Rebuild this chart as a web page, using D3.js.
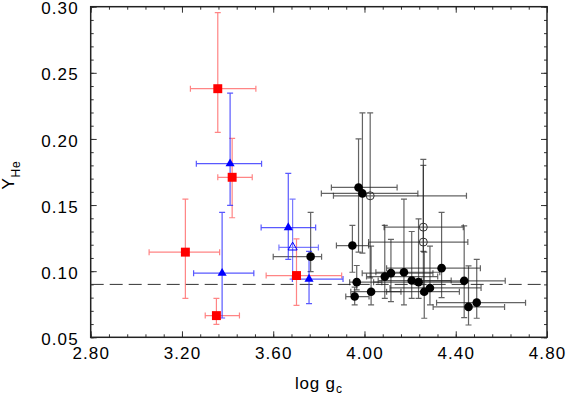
<!DOCTYPE html>
<html>
<head>
  <meta charset="utf-8">
  <script src="https://d3js.org/d3.v7.min.js"></script>
  <style>
    body { margin:0; background:#fff; }
    text { font-family: "Liberation Sans", Arial, sans-serif; }
  </style>
</head>
<body>
<svg id="chart" width="566" height="396"></svg>
<script>
// each row: [logg, Y, logg low, logg high, Y low, Y high]
var redSquares = [
  [3.357, 0.2380, 3.237, 3.524, 0.2050, 0.2955],
  [3.420, 0.1710, 3.357, 3.508, 0.1404, 0.2005],
  [3.215, 0.1144, 3.056, 3.365, 0.0795, 0.1545],
  [3.351, 0.0664, 3.302, 3.452, 0.0598, 0.0795],
  [3.702, 0.0967, 3.569, 3.900, 0.0742, 0.1245]
];
var blueTriangles = [
  [3.411, 0.1813, 3.263, 3.549, 0.1497, 0.2346],
  [3.376, 0.0985, 3.251, 3.515, 0.0646, 0.1444],
  [3.666, 0.1330, 3.547, 3.786, 0.1090, 0.1740],
  [3.757, 0.0940, 3.684, 3.906, 0.0755, 0.1150]
];
var blueOpenTriangles = [
  [3.685, 0.1180, 3.625, 3.798, 0.0940, 0.1545]
];
var blackCircles = [
  [3.974, 0.1633, 3.855, 4.143, 0.1144, 0.2000],
  [3.991, 0.1588, 3.811, 4.234, 0.1136, 0.2197],
  [3.764, 0.1110, 3.600, 3.812, 0.0997, 0.1444],
  [3.947, 0.1194, 3.877, 4.018, 0.0992, 0.1346],
  [3.966, 0.0917, 3.935, 4.076, 0.0858, 0.1043],
  [3.957, 0.0808, 3.918, 4.020, 0.0745, 0.0880],
  [4.029, 0.0845, 3.940, 4.160, 0.0745, 0.1190],
  [4.089, 0.0959, 4.009, 4.321, 0.0795, 0.1346],
  [4.116, 0.0985, 3.990, 4.300, 0.0770, 0.1240],
  [4.173, 0.0992, 4.050, 4.330, 0.0745, 0.1545],
  [4.207, 0.0929, 4.060, 4.380, 0.0795, 0.1300],
  [4.237, 0.0917, 4.040, 4.440, 0.0795, 0.1396],
  [4.262, 0.0845, 4.097, 4.416, 0.0644, 0.1144],
  [4.287, 0.0873, 4.112, 4.511, 0.0745, 0.1190],
  [4.338, 0.1023, 4.097, 4.508, 0.0800, 0.1444],
  [4.437, 0.0927, 4.250, 4.617, 0.0649, 0.1343],
  [4.456, 0.0730, 4.301, 4.614, 0.0593, 0.1040],
  [4.492, 0.0762, 4.316, 4.706, 0.0644, 0.1090]
];
var blackOpenCircles = [
  [4.025, 0.1570, 3.864, 4.447, 0.0950, 0.2197],
  [4.258, 0.1333, 4.086, 4.433, 0.1150, 0.1845],
  [4.258, 0.1220, 4.018, 4.453, 0.0830, 0.1800]
];
var xTicks = [2.8, 3.2, 3.6, 4.0, 4.4, 4.8];
var yTicks = [0.05, 0.10, 0.15, 0.20, 0.25, 0.30];
var yLine = 0.09;

var plotL = 90.7, plotR = 547, plotT = 6.7, plotB = 337.3;
var svg = d3.select("#chart");

var x = d3.scaleLinear().domain([2.8, 4.8]).range([plotL, plotR]);
var y = d3.scaleLinear().domain([0.05, 0.30]).range([plotB, plotT]);

var xMinor = d3.range(2.8, 4.8001, 0.08);
var yMinor = d3.range(0.05, 0.3001, 0.01);

function styleAxis(g) {
  g.select(".domain").remove();
  g.selectAll(".tick line").attr("stroke", "#333").attr("stroke-width", 1);
  g.selectAll("text").attr("font-size", "17px").attr("fill", "#000")
    .attr("letter-spacing", "1.1px")
    .attr("font-family", "'Liberation Sans', Arial, sans-serif");
}

// minor ticks on all four sides
svg.append("g").attr("transform", "translate(0," + plotB + ")")
  .call(d3.axisBottom(x).tickValues(xMinor).tickSize(-3).tickFormat("")).call(styleAxis);
svg.append("g").attr("transform", "translate(0," + plotT + ")")
  .call(d3.axisTop(x).tickValues(xMinor).tickSize(-3).tickFormat("")).call(styleAxis);
svg.append("g").attr("transform", "translate(" + plotL + ",0)")
  .call(d3.axisLeft(y).tickValues(yMinor).tickSize(-3).tickFormat("")).call(styleAxis);
svg.append("g").attr("transform", "translate(" + plotR + ",0)")
  .call(d3.axisRight(y).tickValues(yMinor).tickSize(-3).tickFormat("")).call(styleAxis);

// major ticks
svg.append("g").attr("transform", "translate(0," + plotB + ")")
  .call(d3.axisBottom(x).tickValues(xTicks).tickSize(-6).tickPadding(10).tickFormat(d3.format(".2f"))).call(styleAxis);
svg.append("g").attr("transform", "translate(0," + plotT + ")")
  .call(d3.axisTop(x).tickValues(xTicks).tickSize(-6).tickFormat("")).call(styleAxis);
svg.append("g").attr("transform", "translate(" + plotL + ",0)")
  .call(d3.axisLeft(y).tickValues(yTicks).tickSize(-6).tickPadding(12).tickFormat(d3.format(".2f"))).call(styleAxis)
  .selectAll("text").attr("dy", "0.42em");
svg.append("g").attr("transform", "translate(" + plotR + ",0)")
  .call(d3.axisRight(y).tickValues(yTicks).tickSize(-6).tickFormat("")).call(styleAxis);

// frame
svg.append("rect").attr("x", plotL).attr("y", plotT)
  .attr("width", plotR - plotL).attr("height", plotB - plotT)
  .attr("fill", "none").attr("stroke", "#222").attr("stroke-width", 1.5);

// dashed reference line
svg.append("line")
  .attr("x1", x(2.8)).attr("x2", x(4.8)).attr("y1", y(yLine)).attr("y2", y(yLine))
  .attr("stroke", "#333").attr("stroke-width", 1).attr("stroke-dasharray", "13,6");

// error bars
var cap = 3;
function errorBars(data, color, opacity) {
  var g = svg.append("g").attr("stroke", color).attr("stroke-width", 1.2)
    .attr("stroke-opacity", opacity).attr("fill", "none");
  data.forEach(function(d) {
    var px = x(d[0]), py = y(d[1]);
    var path = d3.path();
    path.moveTo(x(d[2]), py); path.lineTo(x(d[3]), py);
    path.moveTo(x(d[2]), py - cap); path.lineTo(x(d[2]), py + cap);
    path.moveTo(x(d[3]), py - cap); path.lineTo(x(d[3]), py + cap);
    path.moveTo(px, y(d[4])); path.lineTo(px, y(d[5]));
    path.moveTo(px - cap, y(d[4])); path.lineTo(px + cap, y(d[4]));
    path.moveTo(px - cap, y(d[5])); path.lineTo(px + cap, y(d[5]));
    g.append("path").attr("d", path.toString());
  });
}
errorBars(blackCircles, "#222", 0.7);
errorBars(blackOpenCircles, "#222", 0.7);
errorBars(redSquares, "#ff3333", 0.6);
errorBars(blueTriangles, "#2222ff", 0.75);
errorBars(blueOpenTriangles, "#2222ff", 0.6);

// markers
svg.append("g").selectAll("path").data(redSquares).enter().append("path")
  .attr("transform", function(d) { return "translate(" + x(d[0]) + "," + y(d[1]) + ")"; })
  .attr("d", d3.symbol().type(d3.symbolSquare).size(80))
  .attr("fill", "#ff0000");

svg.append("g").selectAll("path").data(blueTriangles).enter().append("path")
  .attr("transform", function(d) { return "translate(" + x(d[0]) + "," + y(d[1]) + ")"; })
  .attr("d", d3.symbol().type(d3.symbolTriangle).size(36))
  .attr("fill", "#0000ff");

svg.append("g").selectAll("path").data(blueOpenTriangles).enter().append("path")
  .attr("transform", function(d) { return "translate(" + x(d[0]) + "," + y(d[1]) + ")"; })
  .attr("d", d3.symbol().type(d3.symbolTriangle).size(36))
  .attr("fill", "none").attr("stroke", "#0000ff").attr("stroke-width", 1);

svg.append("g").selectAll("circle").data(blackCircles).enter().append("circle")
  .attr("cx", function(d) { return x(d[0]); })
  .attr("cy", function(d) { return y(d[1]); })
  .attr("r", 4.3).attr("fill", "#000");

svg.append("g").selectAll("circle").data(blackOpenCircles).enter().append("circle")
  .attr("cx", function(d) { return x(d[0]); })
  .attr("cy", function(d) { return y(d[1]); })
  .attr("r", 4).attr("fill", "none").attr("stroke", "#333").attr("stroke-width", 1);

// axis titles
var xt = svg.append("text").attr("x", (plotL + plotR) / 2).attr("y", 389)
  .attr("text-anchor", "middle").attr("font-size", "17px").attr("letter-spacing", "0.8px");
xt.append("tspan").text("log g");
xt.append("tspan").attr("font-size", "12px").attr("dy", 4).text("c");

var yt = svg.append("text").attr("transform", "translate(14," + 175 + ") rotate(-90)")
  .attr("text-anchor", "middle").attr("font-size", "17px").attr("letter-spacing", "0.8px");
yt.append("tspan").text("Y");
yt.append("tspan").attr("font-size", "12px").attr("dy", 6).text("He");
</script>
</body>
</html>
